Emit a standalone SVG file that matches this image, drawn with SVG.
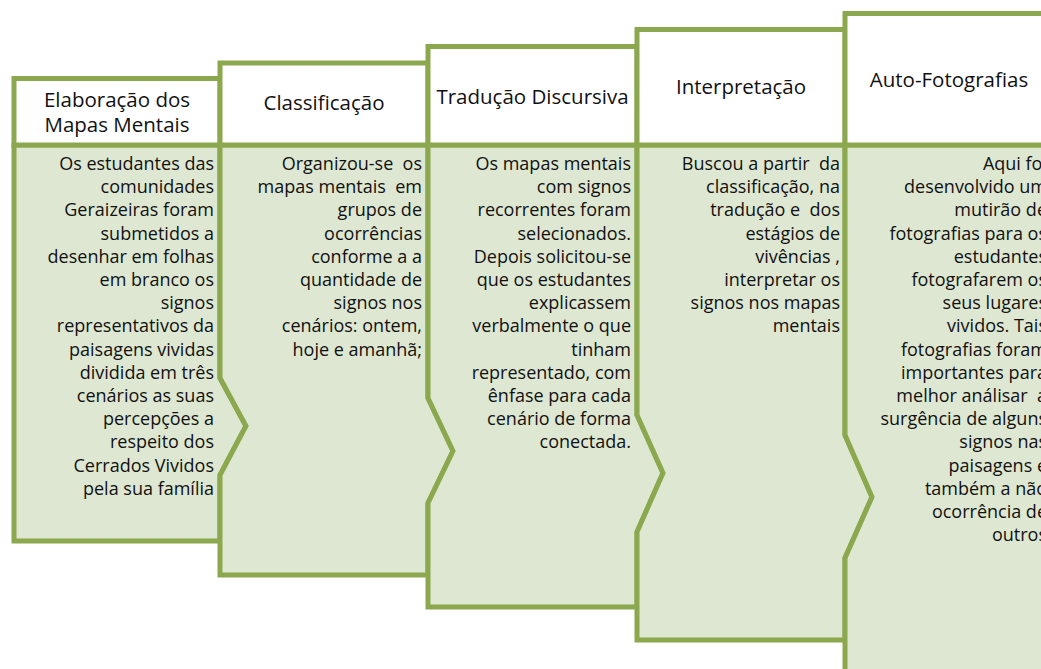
<svg xmlns="http://www.w3.org/2000/svg" width="1041" height="669" viewBox="0 0 1041 669" xml:space="preserve">
<style>
.hd{fill:#ffffff;stroke:#8CA84F;stroke-width:5;stroke-linejoin:miter}
.bd{fill:#DEE7D1;stroke:#8CA84F;stroke-width:5;stroke-linejoin:miter}
.ht{font-family:"Open Sans","Liberation Sans",sans-serif;font-size:20.5px;fill:#111;text-anchor:middle}
.bt{font-family:"Open Sans","Liberation Sans",sans-serif;font-size:18px;fill:#111;text-anchor:end;white-space:pre}
</style>
<rect width="1041" height="669" fill="#ffffff"/>

<g id="col1">
<polygon class="bd" points="14,145 220,145 220,378 246,426 220,475 220,541 14,541"/>
<rect class="hd" x="14" y="78.5" width="206" height="66.5"/>
<text class="ht" x="117" y="107">Elaboração dos</text>
<text class="ht" x="117" y="132">Mapas Mentais</text>
<text class="bt" x="214" y="170">Os estudantes das</text>
<text class="bt" x="214" y="193.2">comunidades</text>
<text class="bt" x="214" y="216.4">Geraizeiras foram</text>
<text class="bt" x="214" y="239.6">submetidos a</text>
<text class="bt" x="214" y="262.8">desenhar em folhas</text>
<text class="bt" x="214" y="286">em branco os</text>
<text class="bt" x="214" y="309.2">signos</text>
<text class="bt" x="214" y="332.4">representativos da</text>
<text class="bt" x="214" y="355.6">paisagens vividas</text>
<text class="bt" x="214" y="378.8">dividida em três</text>
<text class="bt" x="214" y="402">cenários as suas</text>
<text class="bt" x="214" y="425.2">percepções a</text>
<text class="bt" x="214" y="448.4">respeito dos</text>
<text class="bt" x="214" y="471.6">Cerrados Vividos</text>
<text class="bt" x="214" y="494.8">pela sua família</text>
</g>

<g id="col2">
<polygon class="bd" points="220,145 428,145 428,398 453,451 428,503 428,575 220,575 220,475 246,426 220,378"/>
<rect class="hd" x="220" y="63" width="208" height="82"/>
<text class="ht" x="324" y="110">Classificação</text>
<text class="bt" x="422" y="170">Organizou-se  os</text>
<text class="bt" x="422" y="193.2">mapas mentais  em</text>
<text class="bt" x="422" y="216.4">grupos de</text>
<text class="bt" x="422" y="239.6">ocorrências</text>
<text class="bt" x="422" y="262.8">conforme a a</text>
<text class="bt" x="422" y="286">quantidade de</text>
<text class="bt" x="422" y="309.2">signos nos</text>
<text class="bt" x="422" y="332.4">cenários: ontem,</text>
<text class="bt" x="422" y="355.6">hoje e amanhã;</text>
</g>

<g id="col3">
<polygon class="bd" points="428,145 637,145 637,415 663,473 637,532 637,607 428,607 428,503 453,451 428,398"/>
<rect class="hd" x="428" y="46.5" width="209" height="98.5"/>
<text class="ht" x="532.5" y="104">Tradução Discursiva</text>
<text class="bt" x="631" y="170">Os mapas mentais</text>
<text class="bt" x="631" y="193.2">com signos</text>
<text class="bt" x="631" y="216.4">recorrentes foram</text>
<text class="bt" x="631" y="239.6">selecionados.</text>
<text class="bt" x="631" y="262.8">Depois solicitou-se</text>
<text class="bt" x="631" y="286">que os estudantes</text>
<text class="bt" x="631" y="309.2">explicassem</text>
<text class="bt" x="631" y="332.4">verbalmente o que</text>
<text class="bt" x="631" y="355.6">tinham</text>
<text class="bt" x="631" y="378.8">representado, com</text>
<text class="bt" x="631" y="402">ênfase para cada</text>
<text class="bt" x="631" y="425.2">cenário de forma</text>
<text class="bt" x="631" y="448.4">conectada.</text>
</g>

<g id="col4">
<polygon class="bd" points="637,145 845,145 845,435 872,497 845,558 845,640 637,640 637,532 663,473 637,415"/>
<rect class="hd" x="637" y="29.5" width="208" height="115.5"/>
<text class="ht" x="741" y="94">Interpretação</text>
<text class="bt" x="840" y="170">Buscou a partir  da</text>
<text class="bt" x="840" y="193.2">classificação, na</text>
<text class="bt" x="840" y="216.4">tradução e  dos</text>
<text class="bt" x="840" y="239.6">estágios de</text>
<text class="bt" x="840" y="262.8">vivências ,</text>
<text class="bt" x="840" y="286">interpretar os</text>
<text class="bt" x="840" y="309.2">signos nos mapas</text>
<text class="bt" x="840" y="332.4">mentais</text>
</g>

<g id="col5">
<polygon class="bd" points="845,145 1053,145 1053,690 845,690 845,558 872,497 845,435"/>
<rect class="hd" x="845" y="13.5" width="208" height="131.5"/>
<text class="ht" x="949" y="87">Auto-Fotografias</text>
<text class="bt" x="1047" y="170">Aqui foi</text>
<text class="bt" x="1047" y="193.2">desenvolvido um</text>
<text class="bt" x="1047" y="216.4">mutirão de</text>
<text class="bt" x="1047" y="239.6">fotografias para os</text>
<text class="bt" x="1047" y="262.8">estudantes</text>
<text class="bt" x="1047" y="286">fotografarem os</text>
<text class="bt" x="1047" y="309.2">seus lugares</text>
<text class="bt" x="1047" y="332.4">vividos. Tais</text>
<text class="bt" x="1047" y="355.6">fotografias foram</text>
<text class="bt" x="1047" y="378.8">importantes para</text>
<text class="bt" x="1047" y="402">melhor análisar  a</text>
<text class="bt" x="1047" y="425.2">surgência de alguns</text>
<text class="bt" x="1047" y="448.4">signos nas</text>
<text class="bt" x="1047" y="471.6">paisagens e</text>
<text class="bt" x="1047" y="494.8">também a não</text>
<text class="bt" x="1047" y="518">ocorrência de</text>
<text class="bt" x="1047" y="541.2">outros</text>
</g>
</svg>
